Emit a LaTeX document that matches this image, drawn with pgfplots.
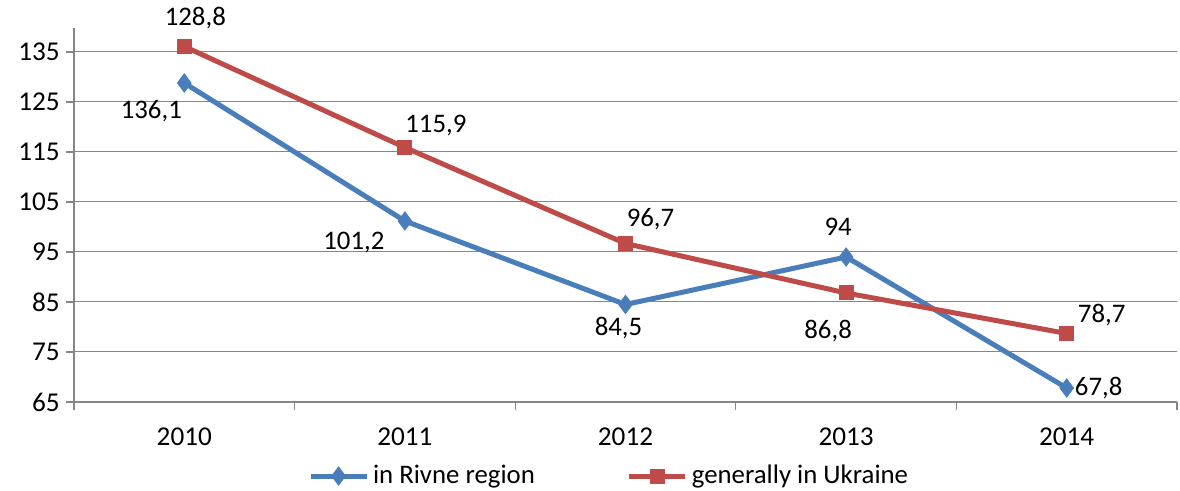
\documentclass[border=0pt]{standalone}
\usepackage{fontspec}
\setmainfont{Carlito}
\usepackage{pgfplots}
\pgfplotsset{compat=1.18}

\definecolor{rivne}{HTML}{4A7EBB}
\definecolor{ukraine}{HTML}{BE4B48}
\definecolor{gridgray}{HTML}{868686}

\begin{document}
\fontsize{13.4}{15}\selectfont
\begin{tikzpicture}
\path[use as bounding box] (-37pt,-44.5pt) rectangle (553pt,201pt);
\begin{axis}[
    scale only axis,
    width=551.5pt, height=187pt,
    at={(0,0)}, anchor=south west,
    xmin=-0.5, xmax=4.5,
    ymin=65, ymax=139.8,
    xtick={0,1,2,3,4},
    xticklabels={2010,2011,2012,2013,2014},
    minor xtick={-0.5,0.5,1.5,2.5,3.5,4.5},
    ytick={65,75,...,135},
    axis x line*=bottom, axis y line*=left,
    axis line style={gridgray,line width=0.6pt,-},
    tick align=outside,
    major tick length=4pt, minor tick length=4pt,
    major x tick style={draw=none},
    minor x tick style={gridgray,line width=0.6pt},
    y tick style={gridgray,line width=0.6pt},
    ymajorgrids,
    grid style={gridgray,line width=0.5pt},
    /pgf/number format/assume math mode=true,
    ticklabel style={font=\fontsize{13.6}{15}\selectfont},
    xticklabel style={yshift=-4.5pt},
    yticklabel style={xshift=1.5pt},
    clip=false,
    legend columns=2,
    legend style={draw=none, at={(0.486,-0.198)}, anchor=center,
        font=\fontsize{13.4}{15}\selectfont,
        /tikz/every even column/.append style={column sep=44pt}},
    legend image code/.code={
        \draw[#1] (0pt,0pt) -- (28pt,0pt);
        \draw[#1,mark repeat=2,mark phase=2] plot coordinates {(0pt,0pt) (14pt,0pt) (28pt,0pt)};
    },
]
\addplot[rivne, line width=2.5pt, mark=diamond*, mark size=4.5pt,
    mark options={line width=0.5pt}] coordinates {
    (0,128.8) (1,101.2) (2,84.5) (3,94) (4,67.8)};
\addlegendentry{in Rivne region}
\addplot[ukraine, line width=2.5pt, mark=square*, mark size=3.5pt,
    mark options={line width=0.5pt}] coordinates {
    (0,136.1) (1,115.9) (2,96.7) (3,86.8) (4,78.7)};
\addlegendentry{generally in Ukraine}

% data labels as they appear in the reference
\node[xshift=-16.5pt,yshift=-14pt] at (axis cs:0,128.8) {136,1};
\node[xshift=-25.5pt,yshift=-11pt] at (axis cs:1,101.2) {101,2};
\node[xshift=-3.5pt,yshift=-12pt] at (axis cs:2,84.5) {84,5};
\node[xshift=-4pt,yshift=15pt] at (axis cs:3,94) {94};
\node[xshift=16pt,yshift=0pt] at (axis cs:4,67.8) {67,8};
\node[xshift=5.5pt,yshift=14pt] at (axis cs:0,136.1) {128,8};
\node[xshift=15.5pt,yshift=11pt] at (axis cs:1,115.9) {115,9};
\node[xshift=12.5pt,yshift=12pt] at (axis cs:2,96.7) {96,7};
\node[xshift=-9pt,yshift=-19pt] at (axis cs:3,86.8) {86,8};
\node[xshift=17.5pt,yshift=9pt] at (axis cs:4,78.7) {78,7};
\end{axis}
\end{tikzpicture}
\end{document}
